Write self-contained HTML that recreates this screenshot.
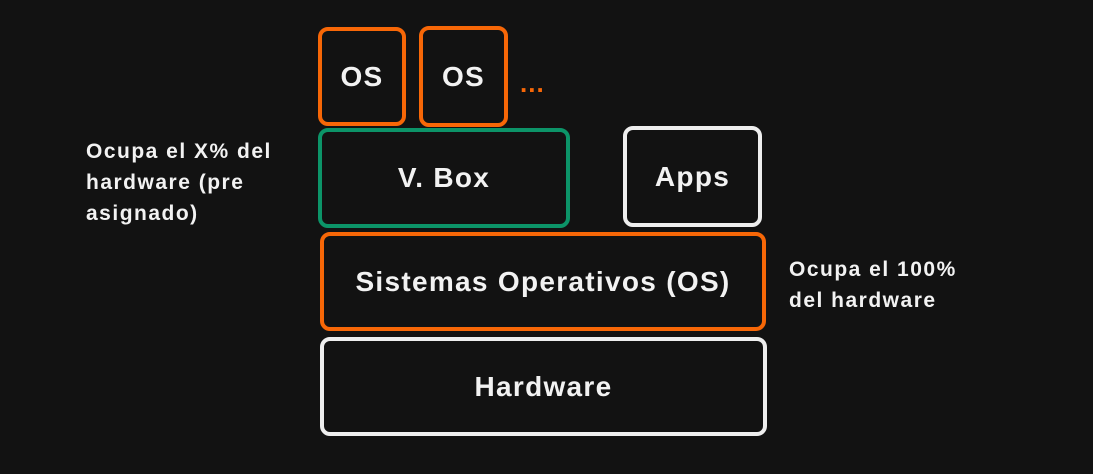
<!DOCTYPE html>
<html><head><meta charset="utf-8"><style>
body{margin:0;width:1093px;height:474px;background:#121212;overflow:hidden;position:relative;font-family:"Liberation Sans",sans-serif;color:#f2f2f2}
.b{position:absolute;box-sizing:border-box;border:4px solid;border-radius:10px;display:flex;align-items:center;justify-content:center;font-weight:bold;font-size:28px;letter-spacing:1.3px}
.o{border-color:#f76707}.g{border-color:#0c9468}.w{border-color:#eeeeee}
.t{position:absolute;font-weight:bold;font-size:21px;line-height:31px;letter-spacing:1.5px}
</style></head><body>
<div class="b o" style="left:318px;top:27px;width:88px;height:99px">OS</div>
<div class="b o" style="left:419px;top:26px;width:89px;height:101px">OS</div>
<div style="position:absolute;left:520px;top:68px;color:#f76707;font-weight:bold;font-size:26px;letter-spacing:1px">...</div>
<div class="b g" style="left:318px;top:128px;width:252px;height:100px">V. Box</div>
<div class="b w" style="left:623px;top:126px;width:139px;height:101px">Apps</div>
<div class="b o" style="left:320px;top:232px;width:446px;height:99px">Sistemas Operativos (OS)</div>
<div class="b w" style="left:320px;top:337px;width:447px;height:99px">Hardware</div>
<div class="t" style="left:86px;top:136px">Ocupa el X% del<br>hardware (pre<br>asignado)</div>
<div class="t" style="left:789px;top:254px">Ocupa el 100%<br>del hardware</div>
</body></html>
